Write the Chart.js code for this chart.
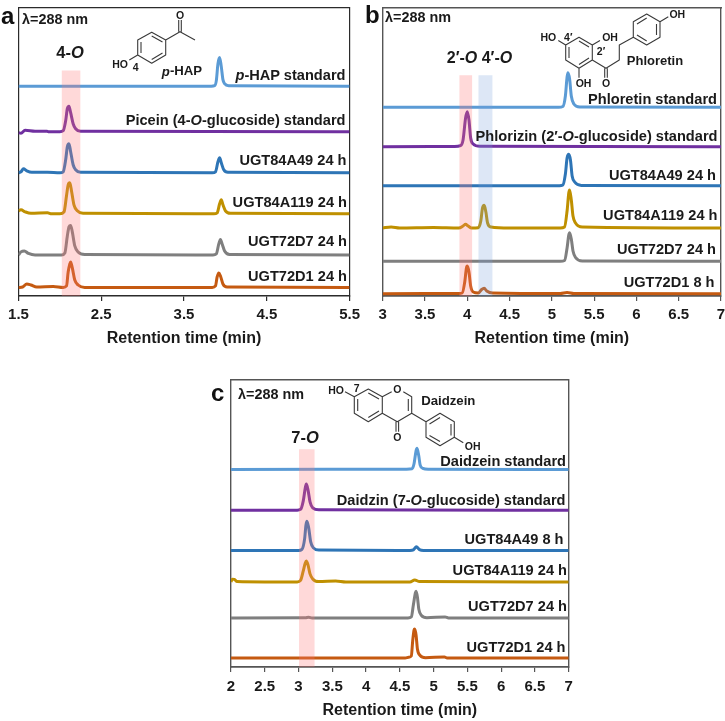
<!DOCTYPE html>
<html><head><meta charset="utf-8">
<style>
html,body{margin:0;padding:0;background:#fff;overflow:hidden;width:725px;height:721px}
canvas{position:absolute;display:block}
svg{position:absolute;left:0;top:0}
svg text{font-family:"Liberation Sans",Arial,sans-serif;font-weight:700;fill:#1a1a1a}
.lab{font-size:14.6px;text-anchor:end;dominant-baseline:central}
.ann{font-size:16.5px;text-anchor:middle;dominant-baseline:central}
.sm{font-size:10.5px;text-anchor:middle;dominant-baseline:central}
.nm{font-size:13.2px;text-anchor:middle;dominant-baseline:central}
.let{font-size:24px;dominant-baseline:central;fill:#111}
.lam{font-size:14.4px;dominant-baseline:central}
path{fill:none;stroke:#3a3a3a;stroke-width:1.1;stroke-linejoin:round}
</style>
<script src="https://cdn.jsdelivr.net/npm/chart.js@4"></script>
</head><body>
<canvas id="ca" width="365" height="348" style="left:0;top:0"></canvas>
<canvas id="cb" width="370" height="348" style="left:365px;top:0"></canvas>
<canvas id="cc" width="370" height="349" style="left:216px;top:371px"></canvas>
<svg width="725" height="721" viewBox="0 0 725 721" xmlns="http://www.w3.org/2000/svg">
<text class="let" x="1" y="15">a</text>
<text class="let" x="365" y="14">b</text>
<text class="let" x="211" y="392">c</text>
<text class="lam" x="22" y="18.5">λ=288 nm</text>
<text class="lam" x="385" y="16.5">λ=288 nm</text>
<text class="lam" x="238" y="393.5">λ=288 nm</text>
<text class="ann" x="70" y="52">4-<tspan font-style="italic">O</tspan></text>
<text class="ann" style="font-size:16px" x="479.5" y="57">2′-<tspan font-style="italic">O</tspan> 4′-<tspan font-style="italic">O</tspan></text>
<text class="ann" x="305" y="437">7-<tspan font-style="italic">O</tspan></text>
<!-- panel a labels -->
<text class="lab" x="345.5" y="75"><tspan font-style="italic">p</tspan>-HAP standard</text>
<text class="lab" x="345.5" y="119.5">Picein (4-<tspan font-style="italic">O</tspan>-glucoside) standard</text>
<text class="lab" x="346.5" y="159.5">UGT84A49 24 h</text>
<text class="lab" x="347" y="201.5">UGT84A119 24 h</text>
<text class="lab" x="347" y="240.5">UGT72D7 24 h</text>
<text class="lab" x="347" y="276">UGT72D1 24 h</text>
<!-- panel b labels -->
<text class="lab" x="717" y="98.5">Phloretin standard</text>
<text class="lab" x="717.5" y="136">Phlorizin (2′-<tspan font-style="italic">O</tspan>-glucoside) standard</text>
<text class="lab" x="716" y="175">UGT84A49 24 h</text>
<text class="lab" x="717.5" y="214.5">UGT84A119 24 h</text>
<text class="lab" x="716" y="248.5">UGT72D7 24 h</text>
<text class="lab" x="714.5" y="281.5">UGT72D1 8 h</text>
<!-- panel c labels -->
<text class="lab" x="566" y="461">Daidzein standard</text>
<text class="lab" x="565.5" y="499.5">Daidzin (7-<tspan font-style="italic">O</tspan>-glucoside) standard</text>
<text class="lab" x="563.5" y="538.5">UGT84A49 8 h</text>
<text class="lab" x="567" y="570">UGT84A119 24 h</text>
<text class="lab" x="567" y="606">UGT72D7 24 h</text>
<text class="lab" x="565.5" y="647">UGT72D1 24 h</text>
<!-- p-HAP -->
<path d="M151.7 32.3L165.7 40L165.7 55L151.7 63.3L137.7 55L137.7 40ZM151.7 36L162.5 42M162.5 53L151.7 59.5M141 53L141 42M165.7 40L180 31.7L195 40M178.7 31.7L178.7 20M181.3 31.7L181.3 20M137.7 55L129.3 60"/>
<text class="sm" x="120" y="64">HO</text>
<text class="sm" x="135.7" y="66.7">4</text>
<text class="sm" x="180" y="15">O</text>
<text class="nm" x="182" y="70.5"><tspan font-style="italic">p</tspan>-HAP</text>
<!-- phloretin -->
<path d="M579 37.3L592.3 45L592.3 60L579 68.3L565.7 60L565.7 45ZM579 41L589 47M589 58L579 64.5M569 58L569 47M565.7 45L558.3 40.5M592.3 45L600 40.5M579 68.3L579 77.7M592.3 60L606 68.3L619.3 60L619.3 45L633.3 37.3L633.3 21.7L646.7 14L660 21.7L660 37.3L646.7 45L633.3 37.3M637 24L646.7 18M656.5 24L656.5 35M646.7 41L637 35M660 21.7L668.3 16.7M604.7 68.3L604.7 77.7M607.3 68.3L607.3 77.7"/>
<text class="sm" x="548.3" y="37.3">HO</text>
<text class="sm" x="568.3" y="36.5">4′</text>
<text class="sm" x="610" y="37.3">OH</text>
<text class="sm" x="601" y="51">2′</text>
<text class="sm" x="583.5" y="83.3">OH</text>
<text class="sm" x="606" y="83.3">O</text>
<text class="sm" x="677.3" y="14.3">OH</text>
<text class="nm" style="font-size:13px" x="655" y="60">Phloretin</text>
<!-- daidzein -->
<path d="M368.3 389L382.3 396.7L382.3 413.3L368.3 421.7L354.3 413.3L354.3 396.7ZM368.3 393L379 399M379 411L368.3 417.5M357.7 411L357.7 399M382.3 396.7L391.7 391.7M403.3 391.7L411.7 396.7L411.7 413.3L397.3 421.7L382.3 413.3M408.3 399L408.3 411M396 421.7L396 431.7M398.6 421.7L398.6 431.7M354.3 396.7L345 391.7M411.7 413.3L426 421.7L440 413.3L454.3 421.7L454.3 437.3L440 445.7L426 437.3L426 421.7M429.5 424L440 417.5M451 424L451 435.5M440 441.5L429.5 435.5M454.3 437.3L463.3 442.7"/>
<text class="sm" x="336" y="390">HO</text>
<text class="sm" x="356.7" y="388">7</text>
<text class="sm" x="397.3" y="389.3">O</text>
<text class="sm" x="397.3" y="437.3">O</text>
<text class="sm" x="472.7" y="446">OH</text>
<text class="nm" x="448.3" y="400.7">Daidzein</text>
</svg>
<script>
// Chromatogram traces: [retention time (min), stacked signal]
const aTicks = {min:1.5, max:5.5, step:1};
const bTicks = {min:3, max:7, step:0.5};
const cTicks = {min:2, max:7, step:0.5};

const aHap = [[1.5,209.5],[3.83,209.5],[3.87,210],[3.89,215],[3.91,232],[3.93,238],[3.95,229],[3.97,216],[3.99,212],[4.04,210],[5.5,209.5]];
const aPicein = [[1.5,163],[1.53,162.5],[1.58,165.5],[1.7,164.5],[1.84,164.5],[1.86,164],[2.0,164],[2.04,165],[2.07,175],[2.09,187],[2.11,189.5],[2.13,183],[2.16,172],[2.19,167],[2.25,164.5],[5.5,164]];
const aA49 = [[1.5,123],[1.53,124],[1.56,127],[1.6,125],[1.66,123.5],[1.85,123.5],[2.0,123],[2.04,124],[2.07,136],[2.09,149],[2.11,152],[2.13,144],[2.16,131],[2.19,126],[2.25,123.5],[3.84,123],[3.88,124],[3.91,134],[3.93,138],[3.95,133],[3.98,126],[4.03,123.5],[5.5,123]];
const aA119 = [[1.5,85],[1.53,86],[1.58,84],[1.65,82.5],[1.85,83],[1.9,82],[2.0,82],[2.05,84],[2.08,100],[2.1,111],[2.12,113],[2.14,105],[2.17,91],[2.21,85],[2.28,82.5],[3.86,82],[3.9,83],[3.93,92],[3.95,96],[3.97,91],[4.0,85],[4.06,82.5],[5.5,82]];
const aD7 = [[1.5,41],[1.53,44],[1.57,45],[1.62,42.5],[1.7,41],[2.02,41],[2.06,43],[2.09,60],[2.11,69],[2.13,70.5],[2.15,64],[2.18,50],[2.22,44],[2.3,41.5],[3.85,41],[3.89,42],[3.92,52],[3.94,56.5],[3.96,52],[3.99,45],[4.05,41.5],[5.5,41]];
const aD1 = [[1.5,8.5],[1.55,9],[1.6,12],[1.65,11],[1.72,9],[1.92,9.5],[2.04,8.5],[2.08,10],[2.1,24],[2.12,32],[2.13,34],[2.15,28],[2.18,16],[2.22,11],[2.3,8.5],[3.84,8.5],[3.88,10],[3.9,19],[3.92,23],[3.94,20],[3.97,12],[4.02,9],[5.5,8.5]];
const aBands = [[[2.02,225],[2.25,225]]];

const bPhloretin = [[3,188.7],[5.08,188.7],[5.13,189.5],[5.16,200],[5.18,219],[5.19,223.3],[5.21,217],[5.23,200],[5.26,192],[5.33,189],[7,188.7]];
const bPhlorizin = [[3,149.3],[3.85,149.5],[3.92,150.3],[3.95,156],[3.98,178],[4.0,184.3],[4.02,176],[4.04,158],[4.07,152],[4.15,149.7],[7,149.3]];
const bA49 = [[3,110.3],[5.09,110.3],[5.13,111],[5.16,122],[5.18,138],[5.2,141.7],[5.22,136],[5.24,120],[5.27,114],[5.35,110.6],[7,110.3]];
const bA119 = [[3,68],[3.1,69],[3.2,68],[3.6,68.5],[3.9,68],[3.95,70],[3.98,71.7],[4.01,70],[4.05,68],[4.13,68.3],[4.16,75],[4.18,88],[4.2,90.7],[4.22,84],[4.24,73],[4.28,69],[4.5,68],[5.1,68],[5.15,69],[5.18,85],[5.2,103],[5.21,106],[5.23,96],[5.25,80],[5.28,73],[5.36,69],[7,68]];
const bD7 = [[3,34.7],[5.1,34.7],[5.15,35.5],[5.18,48],[5.2,61],[5.21,63.3],[5.23,57],[5.25,45],[5.28,38.5],[5.36,35],[7,34.7]];
const bD1 = [[3,2.3],[3.9,2.5],[3.94,3],[3.97,14],[3.99,28],[4.0,30],[4.02,24],[4.04,10],[4.07,4],[4.13,3],[4.17,6.5],[4.2,7.7],[4.23,5],[4.3,3],[5.1,2.5],[5.18,3.5],[5.26,2.5],[7,2.3]];
const bBands = [[[3.905,220.7],[4.06,220.7]], [[4.13,220.7],[4.30,220.7]]];

const cDaidzein = [[2,197.4],[4.6,197.6],[4.68,198],[4.71,203],[4.74,216],[4.755,218.4],[4.78,211],[4.8,202],[4.84,198.5],[4.92,197.6],[7,197.4]];
const cDaidzin = [[2,156.7],[2.98,156.7],[3.03,157.5],[3.07,166],[3.1,179],[3.115,182.7],[3.14,177],[3.17,165],[3.21,159],[3.3,157],[7,156.7]];
const cA49 = [[2,116.4],[3.0,116.4],[3.05,117.5],[3.09,128],[3.11,142],[3.125,145.7],[3.15,139],[3.18,125],[3.22,119],[3.3,116.8],[4.65,116.4],[4.7,117],[4.745,120],[4.79,117.3],[4.85,116.4],[7,116.4]];
const cA119 = [[2,85],[2.02,87.7],[2.05,87.5],[2.09,85.3],[2.5,85],[2.98,85],[3.03,86.5],[3.07,96],[3.1,104],[3.115,106],[3.14,102],[3.17,93],[3.21,88],[3.3,85.3],[3.55,86],[3.7,85],[4.65,85],[4.72,87],[4.79,85.3],[7,85]];
const cD7 = [[2,49],[3.1,49.2],[3.15,49.8],[3.2,49],[4.62,49],[4.67,50],[4.7,62],[4.73,74],[4.74,75.7],[4.76,70],[4.78,58],[4.82,51.5],[4.9,49.3],[5.17,50],[5.22,49],[7,49]];
const cD1 = [[2,9],[4.58,9],[4.63,9.7],[4.67,11],[4.69,26],[4.71,37],[4.72,38],[4.74,32],[4.76,18],[4.8,11.5],[4.88,9.3],[5.16,10],[5.2,9],[7,9]];
const cBands = [[[3.007,217.4],[3.24,217.4]]];

const traceColors = ['#5b9bd5','#7030a0','#2e75b6','#bf9000','#7f7f7f','#c55a11'];
const traceNames = ['standard','glucoside standard','UGT84A49','UGT84A119','UGT72D7','UGT72D1'];
const bandColors = ['rgba(255,120,120,0.28)','rgba(120,160,220,0.25)'];

const FONT = '"Liberation Sans", Arial, sans-serif';

function panel(id, traces, bands, ticks, yMax, pad, edge, edgeWidth, axisH, tickPad){
  const datasets = [];
  bands.forEach((b,i)=>datasets.push({label:'band '+i,data:b,order:0,borderWidth:0,pointRadius:0,
    fill:'origin',backgroundColor:bandColors[i],borderColor:'transparent'}));
  traces.forEach((t,i)=>datasets.push({label:traceNames[i],data:t,order:1,borderColor:traceColors[i],
    borderWidth:3,pointRadius:0,fill:false,cubicInterpolationMode:'monotone',borderCapStyle:'butt',borderJoinStyle:'round'}));
  const bare = {display:true,grid:{display:false},ticks:{display:false},border:{display:true,color:edge,width:edgeWidth}};
  new Chart(document.getElementById(id),{
    type:'line',
    data:{datasets},
    options:{
      responsive:false,animation:false,
      layout:{padding:pad},
      plugins:{legend:{display:false},tooltip:{enabled:false}},
      scales:{
        x:{type:'linear',position:'bottom',min:ticks.min,max:ticks.max,
           afterFit:s=>{s.height=axisH;},
           grid:{display:true,drawOnChartArea:false,drawTicks:true,tickLength:5,color:edge,lineWidth:1.2},
           border:{display:true,color:edge,width:edgeWidth+0.3},
           ticks:{stepSize:ticks.step,autoSkip:false,maxRotation:0,minRotation:0,padding:tickPad,color:'#1a1a1a',
                  font:{family:FONT,size:15,weight:'bold'},callback:v=>String(v)},
           title:{display:true,text:'Retention time (min)',color:'#1a1a1a',padding:{top:0,bottom:0},
                  font:{family:FONT,size:16,weight:'bold'}}},
        y:{type:'linear',position:'left',min:0,max:yMax,afterFit:s=>{s.width=0;},
           grid:{display:false},ticks:{display:false},border:{display:true,color:edge,width:edgeWidth}},
        x2:Object.assign({type:'linear',position:'top',min:ticks.min,max:ticks.max,afterFit:s=>{s.height=0;}},bare),
        y2:Object.assign({type:'linear',position:'right',min:0,max:yMax,afterFit:s=>{s.width=0;}},bare)
      }
    }
  });
}
panel('ca',[aHap,aPicein,aA49,aA119,aD7,aD1],aBands,aTicks,287.5,{left:18.5,right:14,top:8,bottom:0},'#2b2b2b',1.2,52,5);
panel('cb',[bPhloretin,bPhlorizin,bA49,bA119,bD7,bD1],bBands,bTicks,288,{left:17.7,right:14,top:8,bottom:0},'#555',1.4,52,5);
panel('cc',[cDaidzein,cDaidzin,cA49,cA119,cD7,cD1],cBands,cTicks,286.7,{left:15,right:17.3,top:9,bottom:0},'#555',1.4,53,6);
</script>
</body></html>
